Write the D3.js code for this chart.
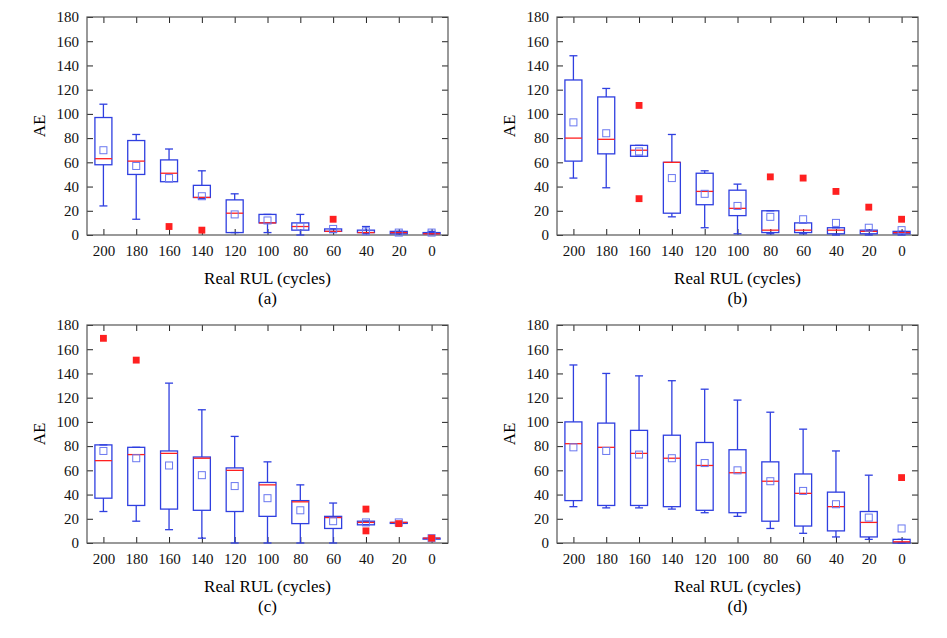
<!DOCTYPE html>
<html><head><meta charset="utf-8">
<script src="https://cdn.jsdelivr.net/npm/d3@7"></script>
<style>body{margin:0;background:#fff}text{font-family:"Liberation Serif","Times New Roman",serif}</style>
</head><body><svg id="chart" width="947" height="638"></svg>
<script>
// categories (Real RUL)
var categories = ["200","180","160","140","120","100","80","60","40","20","0"];
var yTicks = [0,20,40,60,80,100,120,140,160,180];
// each row: [lowWhisker, q1, median, q3, highWhisker]
var boxesA = [[24,58,63,97,108],[13,50,61,78,83],[44,44,51,62,71],[30,31,31,41,53],[2,2,18,29,34],[2,10,10,17,17],[0,4,7,10,17],[2,3,3,5,5],[1,2,2,4,7],[1,1,2,3,3],[1,1,1,2,3]];
var meansA = [70,57,47,32,17,12,7,5,3,2,2];
var outliersA = [[],[],[7],[4],[],[],[],[13],[],[],[]];
var boxesB = [[47,61,80,128,148],[39,67,79,114,121],[65,65,70,74,74],[15,18,60,60,83],[6,25,36,51,53],[1,16,22,37,42],[1,2,4,20,20],[1,2,4,10,10],[0,1,4,6,6],[0,1,3,4,4],[0,1,2,3,3]];
var meansB = [93,84,69,47,34,24,15,13,10,6,4];
var outliersB = [[],[],[107,30],[],[],[],[48],[47],[36],[23],[13]];
var boxesC = [[26,37,68,81,81],[18,31,73,79,79],[11,28,74,76,132],[4,27,70,71,110],[0,26,60,62,88],[0,22,48,50,67],[0,16,34,35,48],[0,12,21,22,33],[15,15,17,18,18],[17,17,17,17,17],[4,4,4,4,4]];
var meansC = [76,70,64,56,47,37,27,18,17,17,4];
var outliersC = [[169],[151],[],[],[],[],[],[],[28,10],[16],[4]];
var boxesD = [[30,35,82,100,147],[29,31,79,99,140],[29,31,74,93,138],[28,30,70,89,134],[25,27,64,83,127],[22,25,58,77,118],[12,18,51,67,108],[8,14,41,57,94],[5,10,30,42,76],[3,5,17,26,56],[0,0,1,3,3]];
var meansD = [79,76,73,70,66,60,51,43,32,21,12];
var outliersD = [[],[],[],[],[],[],[],[],[],[],[54]];

var panels = [
  {boxes:boxesA, means:meansA, outs:outliersA, x:87, y:17, tag:"(a)"},
  {boxes:boxesB, means:meansB, outs:outliersB, x:557, y:17, tag:"(b)"},
  {boxes:boxesC, means:meansC, outs:outliersC, x:87, y:325, tag:"(c)"},
  {boxes:boxesD, means:meansD, outs:outliersD, x:557, y:325, tag:"(d)"}
];
var w = 361, h = 218;
var svg = d3.select("#chart");
var blue = "#2f3fe0", red = "#ff2020";

panels.forEach(function(p) {
  var g = svg.append("g").attr("transform", `translate(${p.x},${p.y})`);
  var x = d3.scalePoint().domain(categories).range([0, w]).padding(0.5);
  var y = d3.scaleLinear().domain([0, 180]).range([h, 0]);

  // axes with inward ticks
  var ax = g.append("g").attr("transform", `translate(0,${h})`)
    .call(d3.axisBottom(x).tickSizeInner(-6).tickSizeOuter(0).tickPadding(10));
  var ax2 = g.append("g").call(d3.axisTop(x).tickSizeInner(-6).tickSizeOuter(0).tickFormat(""));
  var ay = g.append("g").call(d3.axisLeft(y).tickValues(yTicks).tickSizeInner(-6).tickSizeOuter(0).tickPadding(8));
  var ay2 = g.append("g").attr("transform", `translate(${w},0)`)
    .call(d3.axisRight(y).tickValues(yTicks).tickSizeInner(-6).tickSizeOuter(0).tickFormat(""));
  [ax, ax2, ay, ay2].forEach(function(a) {
    a.select(".domain").remove();
    a.selectAll("line").attr("stroke", "#222");
    a.selectAll("text").attr("font-size", 15).attr("fill", "#111").attr("font-family", "Liberation Serif");
  });
  g.append("rect").attr("width", w).attr("height", h).attr("fill", "none").attr("stroke", "#555").attr("stroke-width", 1.2);

  var bw = 17, cw = 8;
  var items = g.selectAll(".box").data(p.boxes).enter().append("g")
    .attr("transform", (d, i) => `translate(${x(categories[i])},0)`);
  items.append("line").attr("y1", d => y(d[0])).attr("y2", d => y(d[1])).attr("stroke", blue).attr("stroke-width", 1.3);
  items.append("line").attr("y1", d => y(d[3])).attr("y2", d => y(d[4])).attr("stroke", blue).attr("stroke-width", 1.3);
  items.append("line").attr("x1", -cw/2).attr("x2", cw/2).attr("y1", d => y(d[0])).attr("y2", d => y(d[0])).attr("stroke", blue).attr("stroke-width", 1.3);
  items.append("line").attr("x1", -cw/2).attr("x2", cw/2).attr("y1", d => y(d[4])).attr("y2", d => y(d[4])).attr("stroke", blue).attr("stroke-width", 1.3);
  items.append("rect").attr("x", -bw/2).attr("width", bw)
    .attr("y", d => y(d[3])).attr("height", d => Math.max(1, y(d[1]) - y(d[3])))
    .attr("fill", "none").attr("stroke", blue).attr("stroke-width", 1.3);
  items.append("line").attr("x1", -bw/2).attr("x2", bw/2).attr("y1", d => y(d[2])).attr("y2", d => y(d[2])).attr("stroke", red).attr("stroke-width", 1.3);
  items.append("rect").attr("x", -3.5).attr("width", 7)
    .attr("y", (d, i) => y(p.means[i]) - 3.5).attr("height", 7)
    .attr("fill", "none").attr("stroke", "#6a78f0").attr("stroke-width", 1);
  items.each(function(d, i) {
    d3.select(this).selectAll(".out").data(p.outs[i]).enter().append("path")
      .attr("d", d3.symbol(d3.symbolDiamond2, 60))
      .attr("transform", v => `translate(0,${y(v)}) rotate(45)`)
      .attr("fill", red);
  });

  g.append("text").attr("transform", `translate(-42,${h/2}) rotate(-90)`)
    .attr("text-anchor", "middle").attr("font-size", 17).text("AE");
  g.append("text").attr("x", w/2).attr("y", h + 49).attr("text-anchor", "middle").attr("font-size", 17).text("Real RUL (cycles)");
  g.append("text").attr("x", w/2).attr("y", h + 69).attr("text-anchor", "middle").attr("font-size", 17).text(p.tag);
});
</script></body></html>
